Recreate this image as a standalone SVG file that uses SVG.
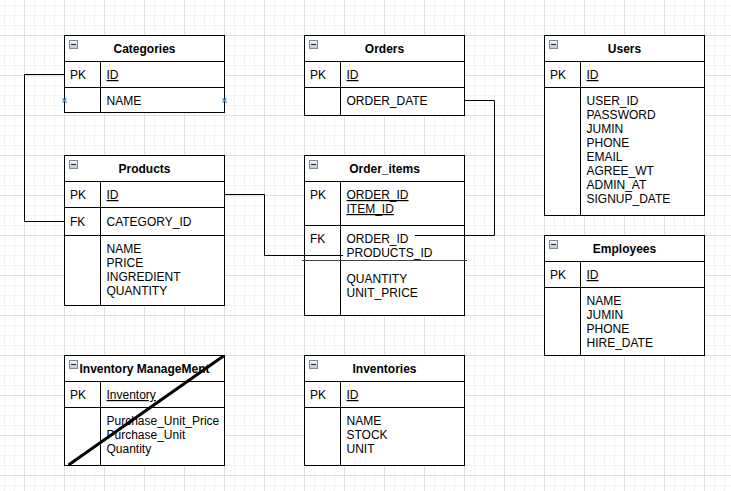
<svg xmlns="http://www.w3.org/2000/svg" xmlns:xlink="http://www.w3.org/1999/xlink" width="731" height="491" viewBox="0 0 731 491">
<style>
.box{fill:#fff;stroke:#000;stroke-width:1}
.ln{stroke:#000;stroke-width:1;fill:none}
.t{font-family:"Liberation Sans",Arial,sans-serif;font-size:12px;fill:#000}
.h{font-family:"Liberation Sans",Arial,sans-serif;font-size:12px;font-weight:bold;fill:#000;text-anchor:middle}
.u{text-decoration:underline}
.conn{stroke:#000;stroke-width:1;fill:none}
</style>
<defs>
<pattern id="grid" patternUnits="userSpaceOnUse" x="24" y="35" width="40" height="40">
<rect width="40" height="40" fill="#fff"/>
<path d="M10.5 0V40M20.5 0V40M30.5 0V40M0 10.5H40M0 20.5H40M0 30.5H40" stroke="#f3f3f3" stroke-width="1"/>
<path d="M0.5 0V40M0 0.5H40" stroke="#e0e0e0" stroke-width="1"/>
</pattern>
<linearGradient id="ig" x1="0" y1="0" x2="0" y2="1">
<stop offset="0" stop-color="#f2f5f8"/>
<stop offset="1" stop-color="#b9c6d3"/>
</linearGradient>
<g id="minus">
<rect x="0.5" y="0.5" width="8" height="8" fill="url(#ig)" stroke="#7b8a99"/>
<path d="M2 4.5H7" stroke="#222" stroke-width="1"/>
</g>
<path id="xmark" d="M-2 -2L2 2M2 -2L-2 2" stroke="#1a9bf0" stroke-width="1.2" fill="none"/>
</defs>
<rect width="731" height="491" fill="url(#grid)"/>

<g id="categories">
<rect class="box" x="64.5" y="35.5" width="160" height="77"/>
<path class="ln" d="M64.5 61.5H224.5M64.5 87.5H224.5M100.5 61.5V112.5"/>
<use xlink:href="#minus" x="69" y="40"/>
<text class="h" x="144.5" y="53">Categories</text>
<text class="t" x="70" y="79">PK</text>
<text class="t u" x="106.5" y="79">ID</text>
<text class="t" x="106.5" y="105">NAME</text>
<use xlink:href="#xmark" x="64.5" y="100.5"/>
<use xlink:href="#xmark" x="224.5" y="100.5"/>
</g>

<g id="products">
<rect class="box" x="64.5" y="155.5" width="160" height="150"/>
<path class="ln" d="M64.5 181.5H224.5M64.5 207.5H224.5M64.5 235.5H224.5M100.5 181.5V305.5"/>
<use xlink:href="#minus" x="69" y="160"/>
<text class="h" x="144.5" y="173">Products</text>
<text class="t" x="70" y="199">PK</text>
<text class="t u" x="106.5" y="199">ID</text>
<text class="t" x="70" y="226">FK</text>
<text class="t" x="106.5" y="226">CATEGORY_ID</text>
<text class="t" x="106.5" y="253">NAME</text>
<text class="t" x="106.5" y="267">PRICE</text>
<text class="t" x="106.5" y="281">INGREDIENT</text>
<text class="t" x="106.5" y="295">QUANTITY</text>
</g>

<g id="orders">
<rect class="box" x="304.5" y="35.5" width="160" height="80"/>
<path class="ln" d="M304.5 61.5H464.5M304.5 87.5H464.5M340.5 61.5V115.5"/>
<use xlink:href="#minus" x="309" y="40"/>
<text class="h" x="384.5" y="53">Orders</text>
<text class="t" x="310" y="79">PK</text>
<text class="t u" x="346.5" y="79">ID</text>
<text class="t" x="346.5" y="105">ORDER_DATE</text>
</g>

<g id="order_items">
<rect class="box" x="304.5" y="155.5" width="160" height="160"/>
<path class="ln" d="M304.5 181.5H464.5M304.5 225.5H464.5M340.5 181.5V315.5"/>
<path d="M302 260.5H467" stroke="#444" stroke-width="1"/>
<use xlink:href="#minus" x="309" y="160"/>
<text class="h" x="384.5" y="173">Order_items</text>
<text class="t" x="310" y="199">PK</text>
<text class="t u" x="346.5" y="199">ORDER_ID</text>
<text class="t u" x="346.5" y="213">ITEM_ID</text>
<text class="t" x="310" y="243">FK</text>
<text class="t" x="346.5" y="243">ORDER_ID</text>
<text class="t" x="346.5" y="257">PRODUCTS_ID</text>
<text class="t" x="346.5" y="283">QUANTITY</text>
<text class="t" x="346.5" y="297">UNIT_PRICE</text>
</g>

<g id="users">
<rect class="box" x="544.5" y="35.5" width="160" height="180"/>
<path class="ln" d="M544.5 61.5H704.5M544.5 87.5H704.5M580.5 61.5V215.5"/>
<use xlink:href="#minus" x="549" y="40"/>
<text class="h" x="624.5" y="53">Users</text>
<text class="t" x="550" y="79">PK</text>
<text class="t u" x="586.5" y="79">ID</text>
<text class="t" x="586.5" y="105">USER_ID</text>
<text class="t" x="586.5" y="119">PASSWORD</text>
<text class="t" x="586.5" y="133">JUMIN</text>
<text class="t" x="586.5" y="147">PHONE</text>
<text class="t" x="586.5" y="161">EMAIL</text>
<text class="t" x="586.5" y="175">AGREE_WT</text>
<text class="t" x="586.5" y="189">ADMIN_AT</text>
<text class="t" x="586.5" y="203">SIGNUP_DATE</text>
</g>

<g id="employees">
<rect class="box" x="544.5" y="235.5" width="160" height="120"/>
<path class="ln" d="M544.5 261.5H704.5M544.5 287.5H704.5M580.5 261.5V355.5"/>
<use xlink:href="#minus" x="549" y="240"/>
<text class="h" x="624.5" y="253">Employees</text>
<text class="t" x="550" y="279">PK</text>
<text class="t u" x="586.5" y="279">ID</text>
<text class="t" x="586.5" y="305">NAME</text>
<text class="t" x="586.5" y="319">JUMIN</text>
<text class="t" x="586.5" y="333">PHONE</text>
<text class="t" x="586.5" y="347">HIRE_DATE</text>
</g>

<g id="inventory_management">
<rect class="box" x="64.5" y="355.5" width="160" height="110"/>
<path class="ln" d="M64.5 381.5H224.5M64.5 407.5H224.5M100.5 381.5V465.5"/>
<use xlink:href="#minus" x="69" y="360"/>
<text class="h" x="144.5" y="373">Inventory ManageMent</text>
<text class="t" x="70" y="399">PK</text>
<text class="t u" x="106.5" y="399">Inventory</text>
<text class="t" x="106.5" y="425">Purchase_Unit_Price</text>
<text class="t" x="106.5" y="439">Purchase_Unit</text>
<text class="t" x="106.5" y="453">Quantity</text>
<path d="M68.5 465L223.5 356" stroke="#000" stroke-width="3"/>
</g>

<g id="inventories">
<rect class="box" x="304.5" y="355.5" width="160" height="110"/>
<path class="ln" d="M304.5 381.5H464.5M304.5 407.5H464.5M340.5 381.5V465.5"/>
<use xlink:href="#minus" x="309" y="360"/>
<text class="h" x="384.5" y="373">Inventories</text>
<text class="t" x="310" y="399">PK</text>
<text class="t u" x="346.5" y="399">ID</text>
<text class="t" x="346.5" y="425">NAME</text>
<text class="t" x="346.5" y="439">STOCK</text>
<text class="t" x="346.5" y="453">UNIT</text>
</g>

<g id="connectors">
<path class="conn" d="M64.5 74.5H24.5V221.5H64.5"/>
<path class="conn" d="M224.5 194.5H264.5V255.5H343"/>
<path class="conn" d="M464.5 100.5H494.5V235.5H415"/>
</g>
</svg>
